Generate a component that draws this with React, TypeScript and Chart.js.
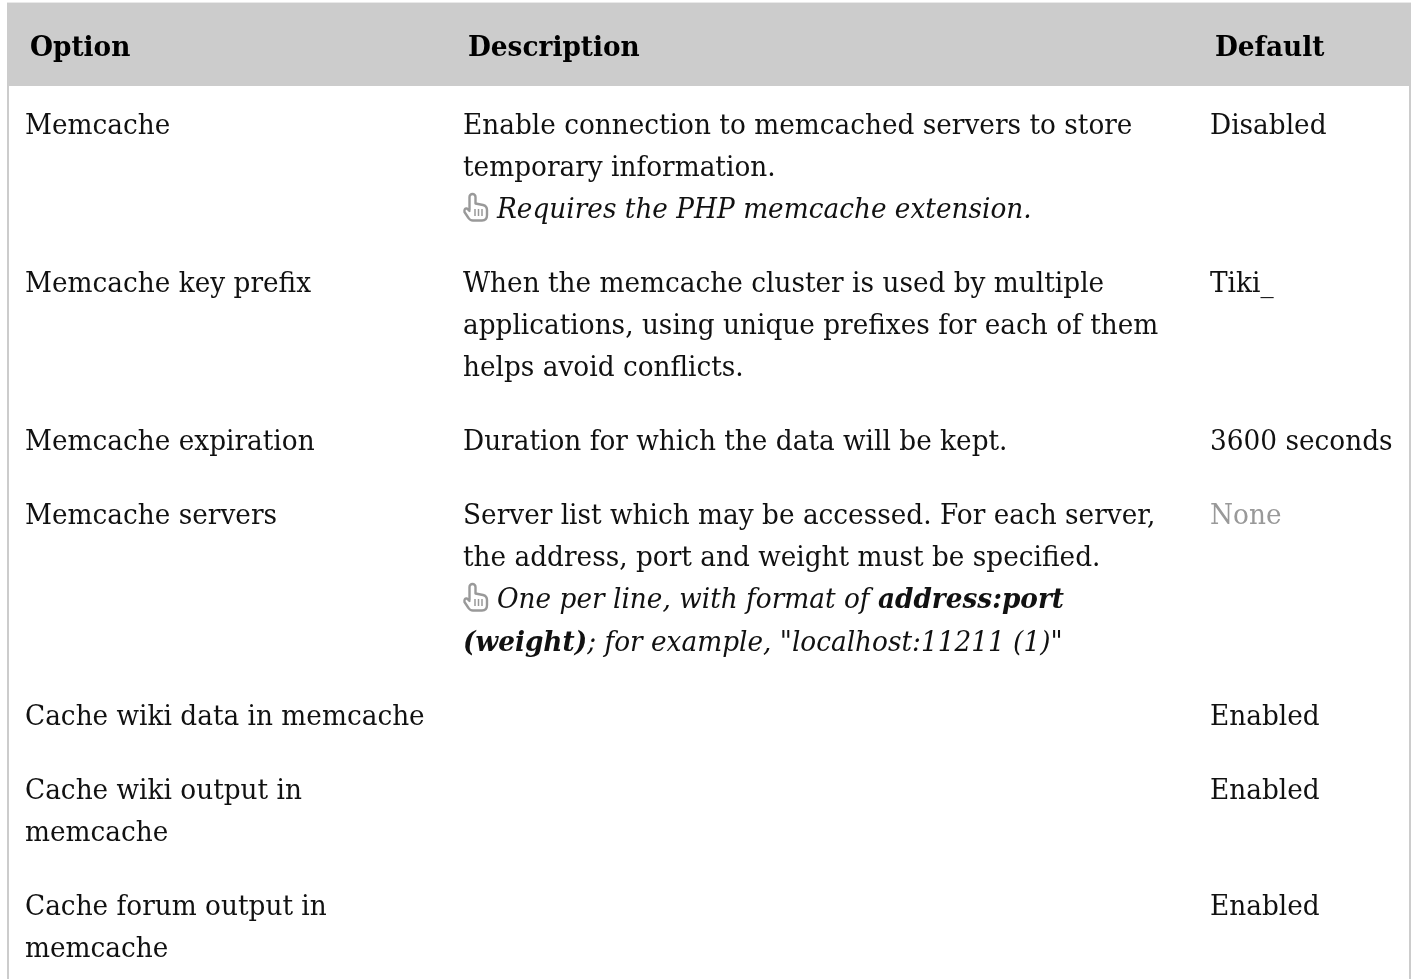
import React, { useEffect, useRef } from "react";
import { Chart, registerables } from "chart.js";

Chart.register(...registerables);

type Seg = [string, "n" | "i" | "b" | "bi" | "h"];
type Line = Seg[];

const headers = ["Option", "Description", "Default"];

const optionLines: string[][] = [
  ["Memcache"],
  ["Memcache key prefix"],
  ["Memcache expiration"],
  ["Memcache servers"],
  ["Cache wiki data in memcache"],
  ["Cache wiki output in", "memcache"],
  ["Cache forum output in", "memcache"],
];

const descriptionLines: Line[][] = [
  [
    [["Enable connection to memcached servers to store", "n"]],
    [["temporary information.", "n"]],
    [["", "h"], ["Requires the PHP memcache extension.", "i"]],
  ],
  [
    [["When the memcache cluster is used by multiple", "n"]],
    [["applications, using unique prefixes for each of them", "n"]],
    [["helps avoid conflicts.", "n"]],
  ],
  [[["Duration for which the data will be kept.", "n"]]],
  [
    [["Server list which may be accessed. For each server,", "n"]],
    [["the address, port and weight must be specified.", "n"]],
    [["", "h"], ["One per line, with format of ", "i"], ["address:port", "bi"]],
    [["(weight)", "bi"], ["; for example, \"localhost:11211 (1)\"", "i"]],
  ],
  [],
  [],
  [],
];

const defaults = ["Disabled", "Tiki_", "3600 seconds", "None", "Enabled", "Enabled", "Enabled"];
const mutedDefaults = ["None"];

const FAMILY = "'DejaVu Serif'";
const SIZE = 28;
const XSCALE = 26.35 / 28;
const LINE = 42.07;
const INK = "#111111";

function drawText(ctx: CanvasRenderingContext2D, text: string, x: number, y: number) {
  ctx.save();
  ctx.translate(x, y);
  ctx.scale(XSCALE, 1);
  ctx.fillText(text, 0, 0);
  ctx.restore();
  return ctx.measureText(text).width * XSCALE;
}

function drawHand(ctx: CanvasRenderingContext2D, x: number, y: number) {
  ctx.save();
  ctx.translate(x, y);
  ctx.strokeStyle = "#999999";
  ctx.lineWidth = 2.4;
  ctx.lineJoin = "round";
  ctx.lineCap = "round";
  ctx.beginPath();
  ctx.moveTo(6.5, 17);
  ctx.lineTo(6.5, 4);
  ctx.arc(9.5, 4, 3, Math.PI, 0);
  ctx.lineTo(12.5, 10.5);
  ctx.lineTo(20, 12);
  ctx.quadraticCurveTo(24, 13, 24, 17);
  ctx.lineTo(24, 22);
  ctx.quadraticCurveTo(24, 27.5, 19, 27.5);
  ctx.lineTo(10, 27.5);
  ctx.quadraticCurveTo(7, 27.5, 5.5, 25);
  ctx.lineTo(1.5, 19);
  ctx.quadraticCurveTo(1, 15, 4, 15.5);
  ctx.lineTo(6.5, 18);
  ctx.stroke();
  ctx.lineWidth = 1.5;
  ctx.lineCap = "butt";
  [12, 15.5, 19].forEach((dx) => {
    ctx.beginPath();
    ctx.moveTo(dx, 16);
    ctx.lineTo(dx, 23);
    ctx.stroke();
  });
  ctx.restore();
}

const tablePlugin = {
  id: "tablePlugin",
  beforeDraw(chart: any) {
    const { ctx, scales } = chart;
    const px = (v: number) => scales.x.getPixelForValue(v);
    const py = (v: number) => scales.y.getPixelForValue(v);
    const colX = [25, 463, 1210];
    const headX = [30, 468, 1215];

    ctx.save();
    ctx.fillStyle = "#ffffff";
    ctx.fillRect(0, 0, chart.width, chart.height);
    ctx.fillStyle = "#cccccc";
    ctx.fillRect(px(7), py(86), 2, py(979) - py(86));
    ctx.fillRect(px(1409), py(86), 2, py(979) - py(86));
    ctx.fillRect(px(7), py(3), 1404, 83);
    ctx.fillStyle = "#e9e9e9";
    ctx.fillRect(px(7), py(2), 1404, 1);

    ctx.textBaseline = "alphabetic";
    ctx.fillStyle = "#000000";
    ctx.font = `bold ${SIZE}px ${FAMILY}`;
    headers.forEach((h, i) => drawText(ctx, h, px(headX[i]), py(55.5)));

    let top = 103;
    optionLines.forEach((opt, r) => {
      const desc = descriptionLines[r];
      const n = Math.max(opt.length, desc.length, 1);
      const base = (k: number) => py(Math.floor(top + 31.35 + k * LINE) - 0.5);
      ctx.fillStyle = INK;
      ctx.font = `${SIZE}px ${FAMILY}`;
      opt.forEach((t, k) => drawText(ctx, t, px(colX[0]), base(k)));
      desc.forEach((line, k) => {
        let x = px(colX[1]);
        line.forEach(([text, st]) => {
          if (st === "h") {
            drawHand(ctx, x, base(k) - 24.5);
            x += 34;
            return;
          }
          ctx.fillStyle = INK;
          ctx.font =
            (st === "i" ? "italic " : st === "bi" ? "italic bold " : "") + `${SIZE}px ${FAMILY}`;
          x += drawText(ctx, text, x, base(k));
        });
      });
      ctx.fillStyle = mutedDefaults.includes(defaults[r]) ? "#999999" : INK;
      ctx.font = `${SIZE}px ${FAMILY}`;
      drawText(ctx, defaults[r], px(colX[2]), base(0));
      top += n * LINE + 32;
    });
    ctx.restore();
  },
};

export default function App() {
  const ref = useRef<HTMLCanvasElement>(null);
  useEffect(() => {
    const chart = new Chart(ref.current!, {
      type: "scatter",
      data: { labels: optionLines.map((o) => o.join(" ")), datasets: [] },
      options: {
        animation: false,
        responsive: false,
        layout: { padding: 0 },
        plugins: { legend: { display: false }, tooltip: { enabled: false }, title: { display: false } },
        scales: {
          x: { type: "linear", display: false, min: 0, max: 1414, offset: false },
          y: { type: "linear", display: false, min: 0, max: 979, reverse: true, offset: false },
        },
      },
      plugins: [tablePlugin],
    } as any);
    return () => chart.destroy();
  }, []);
  return (
    <canvas
      ref={ref}
      width={1414}
      height={979}
      style={{ position: "fixed", left: 0, top: 0, display: "block" }}
    />
  );
}
